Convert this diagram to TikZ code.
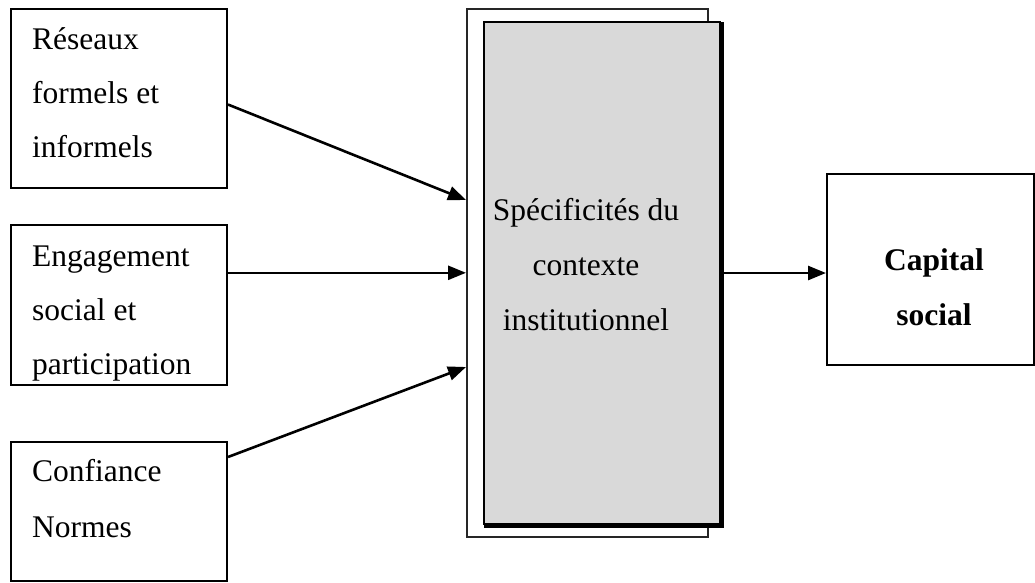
\documentclass[tikz,border=0pt]{standalone}
\usepackage{fontspec}
\setmainfont{Liberation Serif}
\usetikzlibrary{arrows.meta,calc}
\begin{document}
\begin{tikzpicture}[x=1pt,y=-1pt,
  box/.style={draw=black,line width=2pt,inner sep=0pt,anchor=north west},
  txt/.style={inner sep=0pt,align=left,font=\fontsize{31.5}{54}\selectfont},
  ctxt/.style={inner sep=0pt,align=center,font=\fontsize{31.5}{55}\selectfont},
  link/.style={line width=2.6pt,-{Triangle[length=18pt,width=14pt]}}]
\useasboundingbox (0,0) rectangle (1035,582);

% source boxes (text anchored on the baseline of the last line)
\node[box,minimum width=216pt,minimum height=179pt] (res) at (10,8) {};
\node[txt,anchor=base west] (rest) at (32,157) {Réseaux\\formels et\\informels};

\node[box,minimum width=216pt,minimum height=160pt] (eng) at (10,224) {};
\node[txt,anchor=base west] (engt) at (32,374) {Engagement\\social et\\participation};

\node[box,minimum width=216pt,minimum height=139pt] (con) at (10,441) {};
\node[txt,anchor=base west,font=\fontsize{31.5}{56}\selectfont] (cont) at (32,537) {Confiance\\Normes};

% institutional context: outer frame, shadow and grey panel
\node[draw=black!85,line width=1.6pt,inner sep=0pt,anchor=north west,
      minimum width=241pt,minimum height=528pt] (frame) at (466,8) {};
\node[fill=black,inner sep=0pt,anchor=north west,
      minimum width=240pt,minimum height=506pt] (shadow) at (483.5,21.5) {};
\node[draw=black,fill=black!15,line width=2pt,inner sep=0pt,anchor=north west,
      minimum width=236pt,minimum height=502pt] (spec) at (483,21) {};
\node[ctxt,anchor=base] (spect) at (586,330) {Spécificités du\\contexte\\institutionnel};

% result
\node[box,minimum width=207pt,minimum height=191pt] (cap) at (826,173) {};
\node[ctxt,anchor=base,font=\fontsize{31.5}{55}\selectfont\bfseries] (capt) at (934,325) {Capital\\social};

% connectors
\coordinate (a1) at ($(res.east)+(0,6)$);
\coordinate (b1) at (frame.west |- 0,200);
\coordinate (a3) at ($(con.north east)+(0,16)$);
\coordinate (b3) at (frame.west |- 0,367);
\draw[link] (a1) -- (b1);
\draw[link] (eng.east |- frame.west) -- (frame.west);
\draw[link] (a3) -- (b3);
\draw[link] (spec.east) -- (spec.east -| cap.west);
\end{tikzpicture}
\end{document}
